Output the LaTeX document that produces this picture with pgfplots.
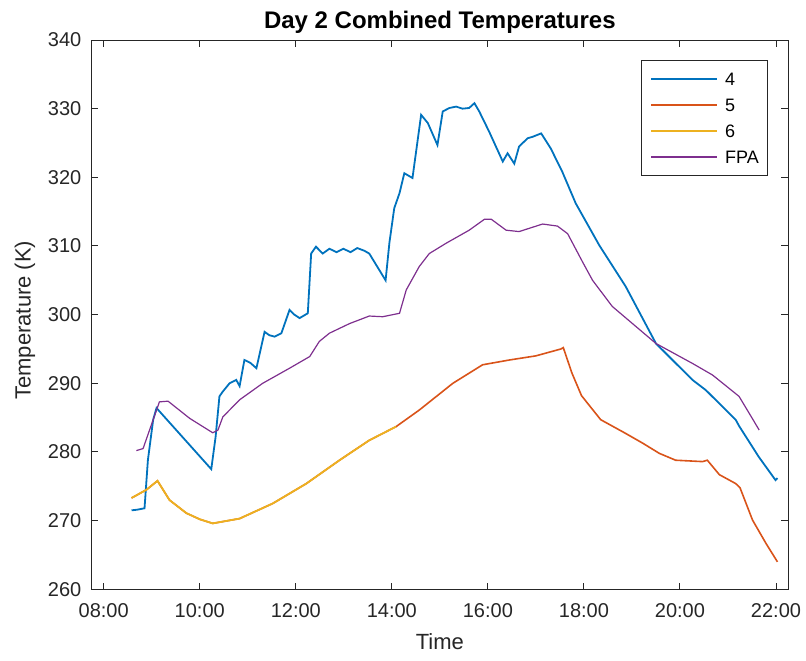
\documentclass[border=0pt]{standalone}
\usepackage{pgfplots}
\pgfplotsset{compat=1.18}
\usepackage{fontspec}
\setmainfont{Liberation Sans}
\definecolor{cfour}{rgb}{0,0.447,0.741}
\definecolor{cfive}{rgb}{0.85,0.325,0.098}
\definecolor{csix}{rgb}{0.929,0.694,0.125}
\definecolor{cfpa}{rgb}{0.494,0.184,0.556}
\definecolor{axgray}{rgb}{0.15,0.15,0.15}
\begin{document}
\begin{tikzpicture}
\useasboundingbox (0pt,0pt) rectangle (403pt,330pt);
\begin{axis}[
  at={(45.85pt,35.35pt)}, anchor=south west,
  scale only axis, width=348.15pt, height=274.65pt,
  xmin=7.75, xmax=22.25, ymin=260, ymax=340,
  xtick={8,10,12,14,16,18,20,22},
  xticklabels={08:00,10:00,12:00,14:00,16:00,18:00,20:00,22:00},
  ytick={260,270,280,290,300,310,320,330,340},
  tick align=inside, major tick length=3.3pt,
  axis line style={axgray, line width=0.5pt}, tick style={axgray, line width=0.5pt},
  /pgf/number format/assume math mode=true,
  ticklabel style={font=\fontsize{10}{12}\selectfont, text=axgray},
  xticklabel style={anchor=base, yshift=-13.85pt, inner sep=0pt},
  yticklabel style={anchor=east, xshift=-5pt, inner sep=0pt},
  title={\textbf{Day 2 Combined Temperatures}},
  every axis title shift=0pt,
  title style={font=\fontsize{12}{14}\selectfont, at={(axis description cs:0.5,1)}, anchor=base, yshift=6pt, inner sep=0pt},
  xlabel={Time},
  xlabel style={font=\fontsize{11}{13}\selectfont, text=axgray, at={(axis description cs:0.5,0)}, anchor=base, yshift=-29.85pt, inner sep=0pt},
  ylabel={Temperature (K)},
  ylabel style={font=\fontsize{11}{13}\selectfont, text=axgray, at={(axis description cs:-0.0958,0.49)}, anchor=center, inner sep=0pt},
  legend style={at={(axis description cs:1,1)}, anchor=north east, xshift=-9.85pt, yshift=-10pt,
    draw=axgray, line width=0.5pt, font=\fontsize{9}{11}\selectfont,
    inner xsep=4.5pt, inner ysep=6pt, row sep=6.5pt, column sep=3.5pt,
    nodes={inner sep=0pt, text height=6.5pt, text depth=0pt}},
  legend cell align=left,
  legend image code/.code={\draw[#1] (0pt,0pt) -- (33pt,0pt);},
]
\addplot[cfour, line width=0.9pt] coordinates {
(8.58,271.5)(8.70,271.6)(8.85,271.8)(8.92,278.8)(9.03,284.7)(9.10,286.4)
(10.24,277.5)(10.33,282.2)(10.41,288.1)(10.48,288.8)(10.62,290.0)(10.76,290.5)(10.83,289.6)
(10.93,293.4)(11.05,293.0)(11.18,292.2)(11.35,297.5)(11.45,297.0)(11.56,296.8)(11.70,297.3)
(11.87,300.7)(11.97,300.0)(12.08,299.5)(12.25,300.2)(12.32,308.9)(12.42,309.9)(12.56,308.9)
(12.70,309.6)(12.85,309.1)(12.99,309.6)(13.14,309.1)(13.28,309.7)(13.43,309.3)(13.53,308.9)
(13.87,305.0)(13.95,310.5)(14.05,315.5)(14.16,317.7)(14.26,320.6)(14.43,319.9)(14.61,329.1)
(14.75,327.9)(14.95,324.7)(15.06,329.6)(15.20,330.1)(15.34,330.3)(15.47,330.0)(15.61,330.1)
(15.72,330.8)(15.82,329.6)(16.03,326.6)(16.31,322.3)(16.41,323.5)(16.55,322.0)(16.65,324.5)
(16.83,325.7)(16.93,325.9)(17.11,326.4)(17.31,324.2)(17.55,320.8)(17.83,316.2)(18.32,310.1)
(18.87,304.1)(19.50,295.8)(20.26,290.5)(20.54,289.0)(21.16,284.7)(21.23,283.8)(21.64,279.3)
(21.99,275.9)(22.03,276.2)
};
\addlegendentry{4}
\addplot[cfive, line width=0.8pt] coordinates {
(8.58,273.3)(8.89,274.5)(9.12,275.8)(9.37,273.0)(9.72,271.1)(10.00,270.2)(10.27,269.6)
(10.83,270.3)(11.52,272.5)(12.22,275.4)(12.91,278.8)(13.53,281.7)(14.09,283.7)(14.57,286.1)
(15.27,290.0)(15.89,292.7)(16.45,293.4)(17.00,294.0)(17.52,295.0)(17.57,295.2)(17.75,291.5)
(17.95,288.2)(18.35,284.7)(18.87,282.7)(19.22,281.3)(19.57,279.8)(19.91,278.8)(20.47,278.6)
(20.57,278.8)(20.82,276.7)(21.16,275.4)(21.25,274.8)(21.51,270.1)(21.79,266.7)(22.03,264.0)
};
\addlegendentry{5}
\addplot[csix, line width=0.9pt] coordinates {
(8.58,273.3)(8.89,274.5)(9.12,275.8)(9.37,273.0)(9.72,271.1)(10.00,270.2)(10.27,269.6)
(10.83,270.3)(11.52,272.5)(12.22,275.4)(12.91,278.8)(13.53,281.7)(14.09,283.7)
};
\addlegendentry{6}
\addplot[cfpa, line width=0.6pt] coordinates {
(8.68,280.2)(8.82,280.5)(9.03,284.7)(9.16,287.3)(9.34,287.4)(9.79,284.9)(10.27,282.8)
(10.38,283.2)(10.48,285.1)(10.83,287.6)(11.31,290.0)(11.87,292.2)(12.29,293.9)(12.49,296.1)
(12.70,297.3)(13.12,298.7)(13.53,299.8)(13.81,299.7)(14.16,300.2)(14.30,303.6)(14.57,307.0)
(14.78,308.9)(15.13,310.4)(15.61,312.3)(15.93,313.9)(16.07,313.9)(16.38,312.3)(16.65,312.1)
(17.14,313.2)(17.45,312.9)(17.66,311.8)(17.97,307.7)(18.18,305.0)(18.59,301.2)(19.50,295.8)
(20.26,292.9)(20.68,291.2)(21.23,288.1)(21.65,283.2)
};
\addlegendentry{FPA}
\end{axis}
\end{tikzpicture}
\end{document}
